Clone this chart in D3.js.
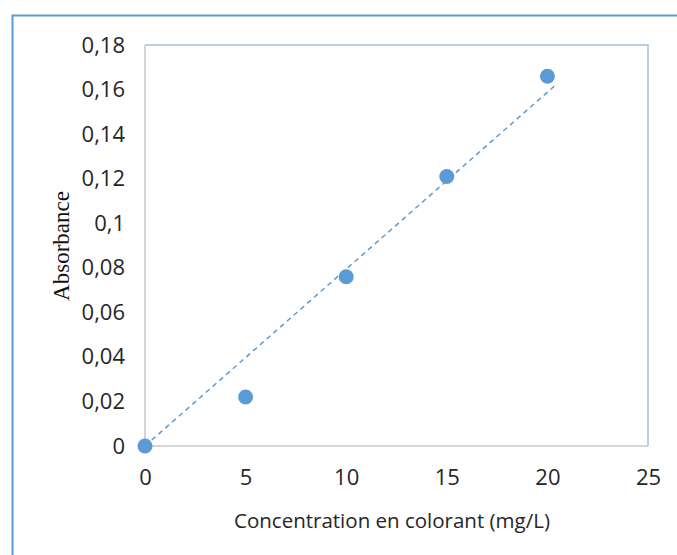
<!DOCTYPE html>
<html>
<head>
<meta charset="utf-8">
<script src="https://cdn.jsdelivr.net/npm/d3@7"></script>
<style>
  body { margin: 0; background: #fff; }
</style>
</head>
<body>
<svg id="chart" width="677" height="555"></svg>
<script>
// data
var concentration = [0, 5, 10, 15, 20];
var absorbance = [0, 0.022, 0.076, 0.121, 0.166];
var xTicks = [0, 5, 10, 15, 20, 25];
var yTicks = [0, 0.02, 0.04, 0.06, 0.08, 0.1, 0.12, 0.14, 0.16, 0.18];
var trendX = [0, 20.5];
var trendSlope = 0.00794;

var svg = d3.select("#chart");
var fmt = function(d) { return String(d).replace(".", ","); };

// outer frame
svg.append("path")
   .attr("d", "M 12.5 555 L 12.5 15.5 L 677 15.5")
   .attr("fill", "none")
   .attr("stroke", "#5b9bd5")
   .attr("stroke-width", 2);

var x = d3.scaleLinear().domain([0, 25]).range([145, 648]);
var y = d3.scaleLinear().domain([0, 0.18]).range([446, 45]);

// plot box: grey left/bottom, light blue top/right
svg.append("path")
   .attr("d", "M " + x(0) + " " + y(0.18) + " L " + x(25) + " " + y(0.18) + " L " + x(25) + " " + y(0))
   .attr("fill", "none").attr("stroke", "#9dc3e6").attr("stroke-width", 1.5);
svg.append("path")
   .attr("d", "M " + x(0) + " " + y(0.18) + " L " + x(0) + " " + y(0) + " L " + x(25) + " " + y(0))
   .attr("fill", "none").attr("stroke", "#c8c8c8").attr("stroke-width", 1.5);

var yAxis = svg.append("g")
   .attr("transform", "translate(" + x(0) + ",0)")
   .call(d3.axisLeft(y).tickValues(yTicks).tickFormat(fmt).tickSize(0).tickPadding(20));
yAxis.select(".domain").remove();

var xAxis = svg.append("g")
   .attr("transform", "translate(0," + y(0) + ")")
   .call(d3.axisBottom(x).tickValues(xTicks).tickFormat(fmt).tickSize(0).tickPadding(23));
xAxis.select(".domain").remove();

svg.selectAll(".tick text")
   .style("font-family", "'Open Sans', sans-serif")
   .style("font-size", "22px")
   .style("fill", "#262626");

// trend line
svg.append("line")
   .attr("x1", x(trendX[0])).attr("y1", y(trendX[0] * trendSlope))
   .attr("x2", x(trendX[1])).attr("y2", y(trendX[1] * trendSlope))
   .attr("stroke", "#5b9bd5")
   .attr("stroke-width", 1.5)
   .attr("stroke-dasharray", "5,4");

svg.selectAll("circle.pt")
   .data(concentration)
   .enter().append("circle")
   .attr("class", "pt")
   .attr("cx", function(d) { return x(d); })
   .attr("cy", function(d, i) { return y(absorbance[i]); })
   .attr("r", 7.5)
   .attr("fill", "#5b9bd5");

svg.append("text")
   .attr("x", 392)
   .attr("y", 528)
   .attr("text-anchor", "middle")
   .style("font-family", "'Open Sans', sans-serif")
   .style("font-size", "20.5px")
   .style("fill", "#262626")
   .text("Concentration en colorant (mg/L)");

svg.append("text")
   .attr("transform", "translate(69,246) rotate(-90)")
   .attr("text-anchor", "middle")
   .style("font-family", "'Liberation Serif', serif")
   .style("font-size", "23px")
   .style("fill", "#111")
   .text("Absorbance");
</script>
</body>
</html>
